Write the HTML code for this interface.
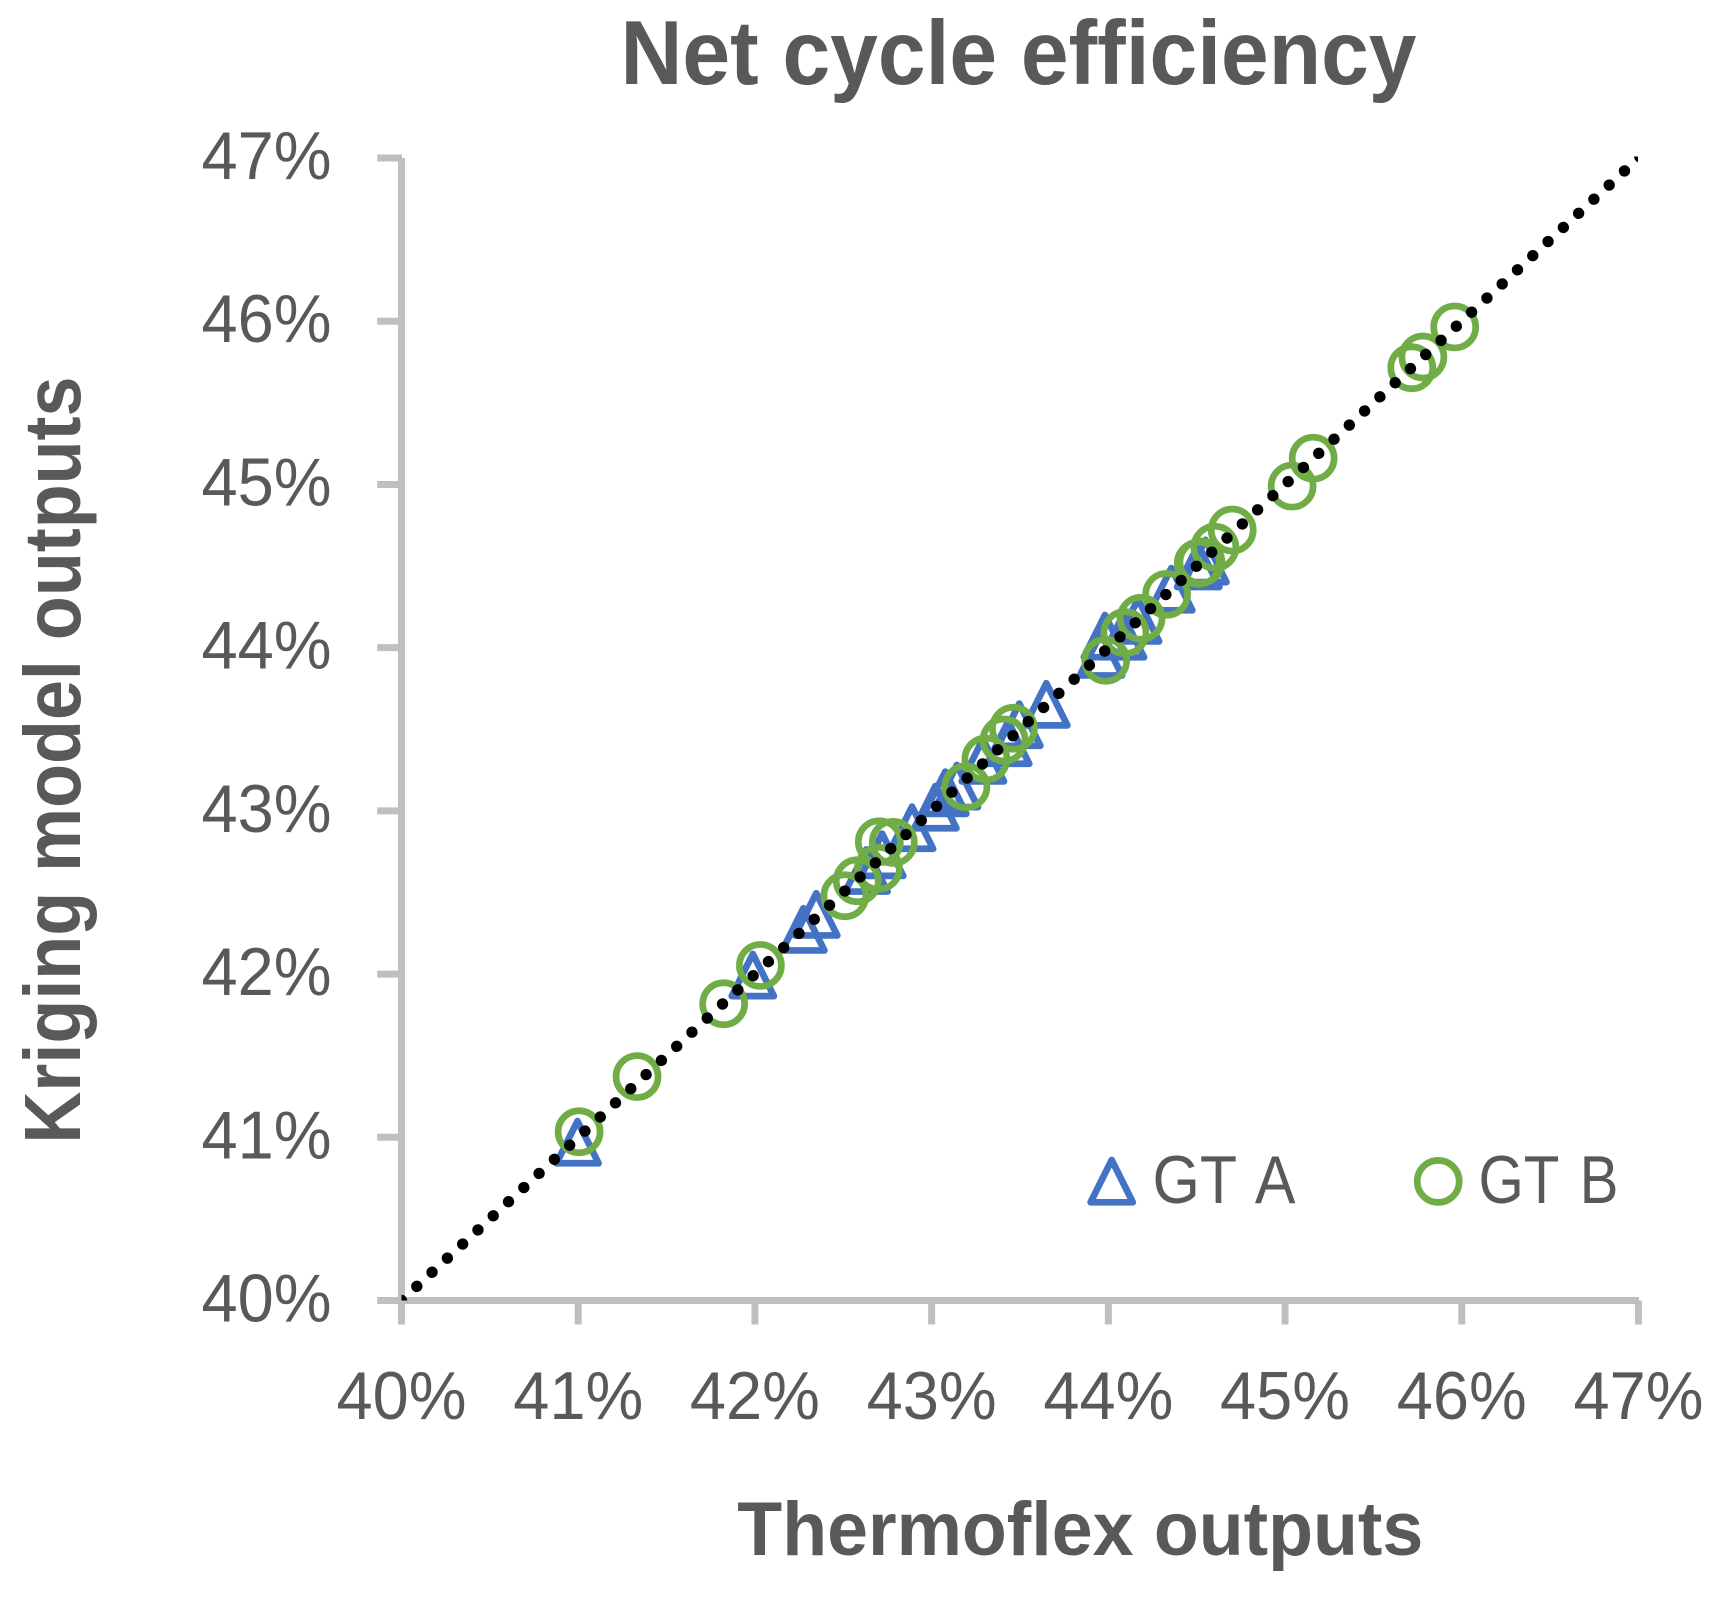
<!DOCTYPE html>
<html lang="en">
<head>
<meta charset="utf-8">
<title>Net cycle efficiency</title>
<style>
  html, body { margin: 0; padding: 0; background: #ffffff; }
  body { width: 1727px; height: 1600px; overflow: hidden; }
  svg { display: block; }
  text { font-family: "Liberation Sans", sans-serif; fill: #595959; }
</style>
</head>
<body>
<svg id="chart" xmlns="http://www.w3.org/2000/svg" width="1727" height="1600" viewBox="0 0 1727 1600">
  <defs>
    <clipPath id="plot-clip"><rect x="401.5" y="156.5" width="1236.5" height="1144"></rect></clipPath>
  </defs>
  <text x="1018.5" y="84" font-size="91" font-weight="700" text-anchor="middle" textLength="796" lengthAdjust="spacingAndGlyphs">Net cycle efficiency</text>
  <text x="80" y="760" font-size="80" font-weight="700" text-anchor="middle" textLength="767" lengthAdjust="spacingAndGlyphs" transform="rotate(-90 80 760)">Kriging model outputs</text>
  <text x="1080.3" y="1555" font-size="76" font-weight="700" text-anchor="middle" textLength="686" lengthAdjust="spacingAndGlyphs">Thermoflex outputs</text>
  <g id="axes"></g>
  <g id="series-a"></g>
  <g id="series-b"></g>
  <g id="trend" clip-path="url(#plot-clip)"></g>
  <g>
    <g>
      <path d="M1111.7 1160 L1132.8 1202.3 L1090.6 1202.3 Z" fill="none" stroke="#4472c4" stroke-width="6.7" stroke-linejoin="round"></path>
      <text x="1152.5" y="1203" font-size="68" word-spacing="6" textLength="143" lengthAdjust="spacingAndGlyphs">GT A</text>
    </g>
    <g>
      <circle cx="1438.2" cy="1181.4" r="21" fill="none" stroke="#70ad47" stroke-width="6.7"></circle>
      <text x="1478.5" y="1203" font-size="68" word-spacing="6" textLength="140" lengthAdjust="spacingAndGlyphs">GT B</text>
    </g>
  </g>
</svg>
<script>
const tickValues = [40, 41, 42, 43, 44, 45, 46, 47];
const tickLabels = ["40%", "41%", "42%", "43%", "44%", "45%", "46%", "47%"];
const gtAX = [40.996, 41.988, 42.274, 42.347, 42.631, 42.720, 42.889, 43.021, 43.077, 43.143, 43.290, 43.433, 43.496, 43.649, 43.958, 43.981, 44.083, 44.168, 44.356, 44.509, 44.549];
const gtAY = [40.970, 41.994, 42.274, 42.366, 42.635, 42.731, 42.897, 43.023, 43.111, 43.152, 43.310, 43.418, 43.528, 43.653, 43.959, 44.071, 44.070, 44.168, 44.358, 44.501, 44.531];
const gtBX = [41.005, 41.333, 41.823, 42.031, 42.509, 42.579, 42.699, 42.704, 42.783, 43.194, 43.307, 43.410, 43.463, 43.985, 44.094, 44.185, 44.330, 44.509, 44.524, 44.603, 44.701, 45.040, 45.159, 45.717, 45.780, 45.960];
const gtBY = [41.034, 41.372, 41.818, 42.053, 42.480, 42.572, 42.648, 42.811, 42.807, 43.148, 43.318, 43.434, 43.506, 43.923, 44.092, 44.180, 44.327, 44.517, 44.525, 44.615, 44.721, 44.990, 45.161, 45.715, 45.781, 45.965];
const trendX = [40, 47.05];
const trendY = [40, 47.05];

const NS = "http://www.w3.org/2000/svg";
function xScale(v) { return 401.5 + (v - 40) * 176.71; }
function yScale(v) { return 1300.5 - (v - 40) * 163.21; }
function make(tag, attrs, parent) {
  const el = document.createElementNS(NS, tag);
  for (const k in attrs) el.setAttribute(k, attrs[k]);
  parent.appendChild(el);
  return el;
}

const axes = document.getElementById("axes");
const axisStyle = { stroke: "#bfbfbf", "stroke-width": 7, fill: "none" };

const yAxisLine = make("line", Object.assign({ x1: xScale(40), x2: xScale(40), y1: yScale(47), y2: yScale(40) }, axisStyle), axes);



const xAxisLine = make("line", Object.assign({ x1: xScale(40), x2: xScale(47) + 0.5, y1: yScale(40), y2: yScale(40) }, axisStyle), axes);



tickValues.forEach(function (v, i) {
  const yTick = make("line", Object.assign({ x1: 377.2, x2: xScale(40) + 0.5, y1: yScale(v), y2: yScale(v) }, axisStyle), axes);
  
  

  const xTick = make("line", Object.assign({ x1: xScale(v), x2: xScale(v), y1: yScale(40), y2: 1324.5 }, axisStyle), axes);
  
  

  const yLabel = make("text", { x: 331.5, y: yScale(v) + 21, "font-size": 68, "text-anchor": "end", textLength: 130, lengthAdjust: "spacingAndGlyphs" }, axes);
  yLabel.textContent = tickLabels[i];
  
  

  const xLabel = make("text", { x: xScale(v), y: 1419, "font-size": 68, "text-anchor": "middle", textLength: 130, lengthAdjust: "spacingAndGlyphs" }, axes);
  xLabel.textContent = tickLabels[i];
  
  
});

const seriesA = document.getElementById("series-a");
gtAX.forEach(function (xv, i) {
  const cx = xScale(xv);
  const cy = yScale(gtAY[i]);
  const d = "M" + cx + " " + (cy - 21.1) + " L" + (cx + 21.1) + " " + (cy + 21.1) + " L" + (cx - 21.1) + " " + (cy + 21.1) + " Z";
  const tri = make("path", { d: d, fill: "none", stroke: "#4472c4", "stroke-width": 6.7, "stroke-linejoin": "round" }, seriesA);
  
  
});

const seriesB = document.getElementById("series-b");
gtBX.forEach(function (xv, i) {
  const circ = make("circle", { cx: xScale(xv), cy: yScale(gtBY[i]), r: 21, fill: "none", stroke: "#70ad47", "stroke-width": 6.7 }, seriesB);
  
  
});

const trend = document.getElementById("trend");
const trendLine = make("line", { x1: xScale(trendX[0]), y1: yScale(trendY[0]), x2: xScale(trendX[1]), y2: yScale(trendY[1]), stroke: "#000000", "stroke-width": 11.4, "stroke-linecap": "round", "stroke-dasharray": "0.01 20.8" }, trend);


</script>
</body>
</html>
